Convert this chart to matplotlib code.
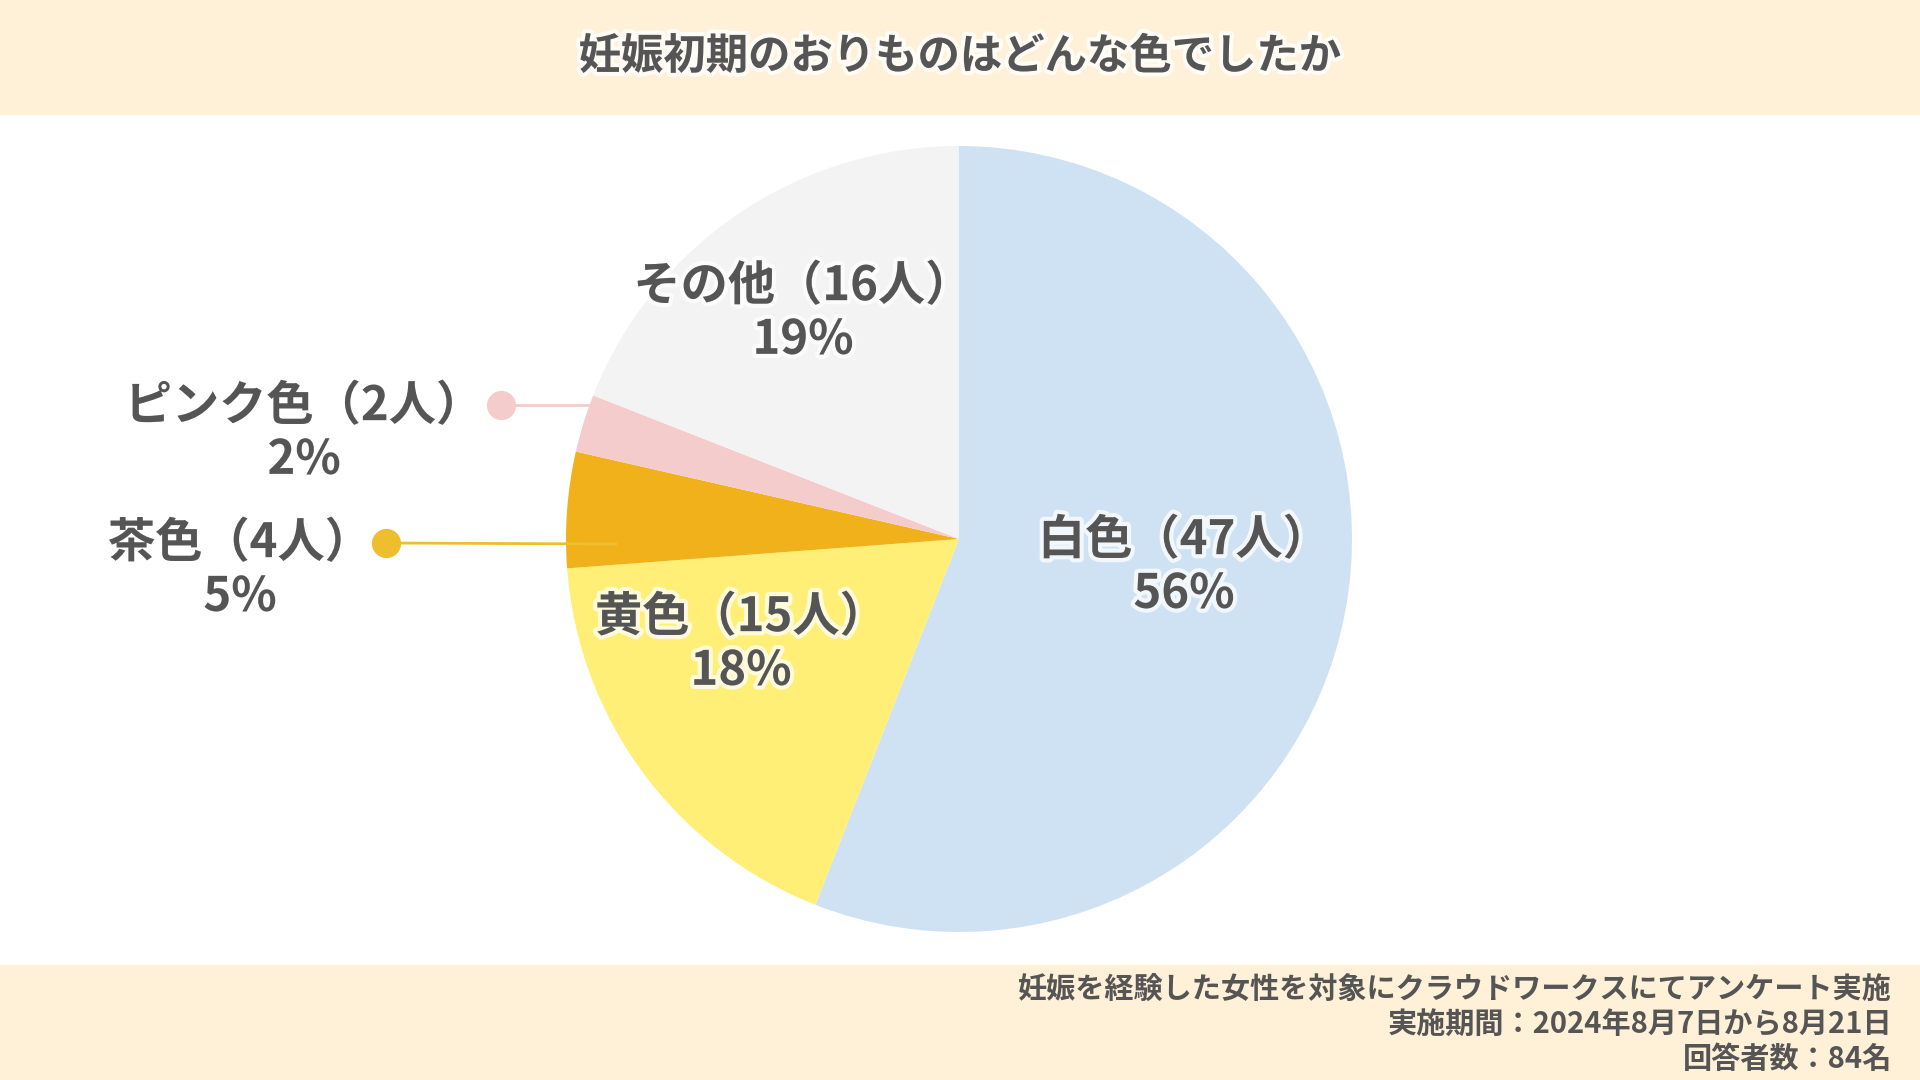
import matplotlib
matplotlib.use('Agg')
import matplotlib.pyplot as plt
import matplotlib.patheffects as pe
from matplotlib.patches import Rectangle

plt.rcParams['font.family'] = ['Noto Sans CJK JP', 'DejaVu Sans']

# Datos
categorias = ['白色', '黄色', '茶色', 'ピンク色', 'その他']
personas = [47, 15, 4, 2, 16]
porcentajes = [56, 18, 5, 2, 19]
colores = ['#CFE2F3', '#FFEF77', '#F1B11B', '#F4CCCC', '#F3F3F3']

titulo = '妊娠初期のおりものはどんな色でしたか'
notas = ['妊娠を経験した女性を対象にクラウドワークスにてアンケート実施',
         '実施期間：2024年8月7日から8月21日',
         '回答者数：84名']

W, H = 1920, 1080
TXT = '#555555'
BANDA = '#FFF0D8'

fig = plt.figure(figsize=(W / 100, H / 100), dpi=100)
ax = fig.add_axes([0, 0, 1, 1])


def yy(y):
    ''' Coordenada y medida desde arriba. '''
    return H - y


glow = [pe.withStroke(linewidth=6, foreground='white', alpha=0.75)]

# Torta
ax.pie(personas, colors=colores, startangle=90, counterclock=False,
       center=(959, yy(539)), radius=393, frame=True,
       wedgeprops=dict(linewidth=0))
ax.set_xlim(0, W)
ax.set_ylim(0, H)
ax.set_aspect('equal')
ax.axis('off')

# Bandas de encabezado y pie
ax.add_patch(Rectangle((0, yy(114)), W, 114, color=BANDA, zorder=0))
ax.add_patch(Rectangle((0, 0), W, H - 965, color=BANDA, zorder=0))

ax.text(W / 2, yy(57), titulo, ha='center', va='center', fontsize=30.5,
        fontweight='bold', color=TXT, path_effects=glow)

for i, linea in enumerate(notas):
    ax.text(1892, yy(989 + 35 * i), linea, ha='right', va='center',
            fontsize=21, fontweight='bold', color=TXT)

# Posiciones de las etiquetas (centro del bloque de texto)
pos_etiquetas = [(1184, 567), (741, 644), (240, 570), (304, 433), (803, 313)]
for cat, n, p, (x, y) in zip(categorias, personas, porcentajes, pos_etiquetas):
    ax.text(x, yy(y), f'{cat}（{n}人）\n{p}%', ha='center', va='center',
            fontsize=34, fontweight='bold', color=TXT, linespacing=1.15,
            path_effects=glow, zorder=5)

# Lineas guia para las etiquetas externas
guias = {2: ((386, 543), (616, 544)), 3: ((501, 405), (591, 405))}
for i, ((x0, y0), (x1, y1)) in guias.items():
    c = '#EFBE2E' if i == 2 else colores[i]
    ax.plot([x0, x1], [yy(y0), yy(y1)], color=c, lw=2, zorder=4)
    ax.plot(x0, yy(y0), 'o', color=c, ms=20, zorder=4)

fig.savefig('out.png', dpi=100)
